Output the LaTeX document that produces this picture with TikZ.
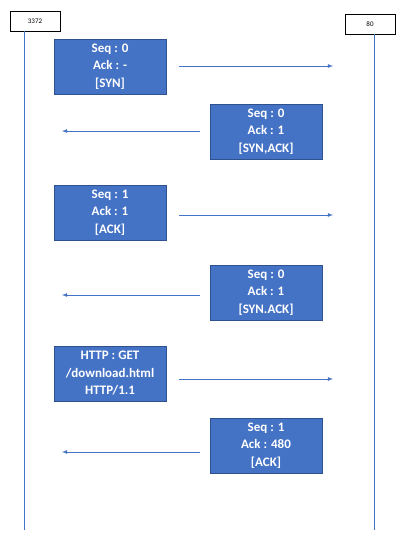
\documentclass[tikz,border=0pt]{standalone}
\usepackage{fontspec}
\setmainfont{Carlito}
\newfontfamily\msgfont{Carlito}[UprightFont={* Bold}]
\usetikzlibrary{arrows,positioning}
\definecolor{msgblue}{HTML}{4472C4}
\definecolor{msgedge}{HTML}{2F528F}
\def\Client{3372}
\def\Server{80}

\begin{document}
\begin{tikzpicture}[x=1pt,y=-1pt,% px-like units, y going down
				every node/.style={
					align=center,		% "\\" breaks lines
					inner sep=0pt
				},
				port/.style={rectangle,draw=black,line width=0.8pt,fill=white,
					minimum width=50pt,minimum height=20pt,font=\fontsize{7}{8}\selectfont},
				msg/.style={rectangle,draw=msgedge,line width=0.8pt,fill=msgblue,text=white,
					minimum width=112pt,minimum height=55pt,font=\msgfont\fontsize{13}{17.5}\selectfont},
				every edge/.style={draw,msgblue,line width=0.8pt},
				>=latex
			]
			\useasboundingbox (0,0) rectangle (408,554);
			% ports and lifelines
			\node[port](P1) at (35,21){\Client};
			\node[port](P2) at (370,24){\Server};
			\coordinate (L1) at (24.5,530);
			\coordinate (L2) at (374,530);
			\draw[msgblue,line width=0.8pt] (P1.south -| L1) -- (L1);
			\draw[msgblue,line width=0.8pt] (P2.south -| L2) -- (L2);
			% messages
			\node[msg](M1) at (110,66.5){Seq : 0\\ Ack : -\\ {[SYN]}};
			\node[msg](M2) at (266,131.5){Seq : 0\\ Ack : 1\\ {[SYN,ACK]}};
			\node[msg](M3) at (110,212.5){Seq : 1\\ Ack : 1\\ {[ACK]}};
			\node[msg](M4) at (266,292.5){Seq : 0\\ Ack : 1\\ {[SYN.ACK]}};
			\node[msg](M5) at (110,373.5){HTTP : GET\\ /download.html\\ HTTP/1.1};
			\node[msg](M6) at (266,445.5){Seq : 1\\ Ack : 480\\ {[ACK]}};
			% arrow ends
			\coordinate (A1s) at (179,66);  \coordinate (A1e) at (333,66);
			\coordinate (A2s) at (200,131); \coordinate (A2e) at (62,131);
			\coordinate (A3s) at (179,215); \coordinate (A3e) at (333,215);
			\coordinate (A4s) at (200,295); \coordinate (A4e) at (62,295);
			\coordinate (A5s) at (179,379); \coordinate (A5e) at (333,379);
			\coordinate (A6s) at (200,452); \coordinate (A6e) at (62,452);
			\path[->]
			(A1s)edge []	node [] {} (A1e)
			(A2s)edge []	node [] {} (A2e)
			(A3s)edge []	node [] {} (A3e)
			(A4s)edge []	node [] {} (A4e)
			(A5s)edge []	node [] {} (A5e)
			(A6s)edge []	node [] {} (A6e)
			;
\end{tikzpicture}
\end{document}
